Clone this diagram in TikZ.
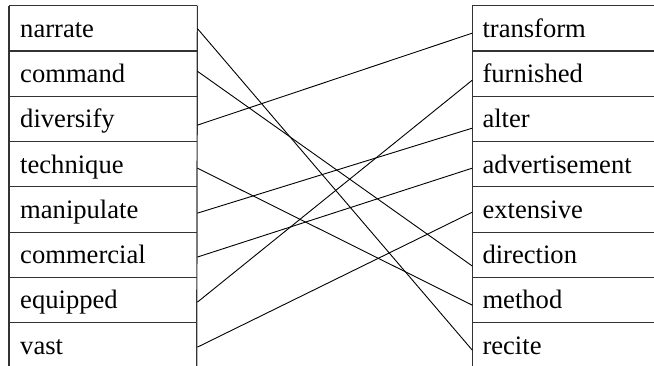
\documentclass[tikz,border=0pt]{standalone}
\usepackage{fontspec}
\setmainfont{Liberation Serif}
\begin{document}
\begin{tikzpicture}[x=1pt,y=-1pt,
  rowL/.style={anchor=north west, inner xsep=11pt, inner ysep=0pt, text width=166pt, align=left,
    text height=31.3pt, text depth=14pt, font=\fontsize{26.6}{30}\selectfont},
  rowR/.style={anchor=north west, inner xsep=10pt, inner ysep=0pt, text width=161.7pt, align=left,
    text height=31.3pt, text depth=14pt, font=\fontsize{26.6}{30}\selectfont},
  frame/.style={draw=black!80, line width=1.2pt},
  link/.style={draw=black, line width=0.9pt}]
\useasboundingbox (0,0) rectangle (654,366);
% left column
\node[rowL] (nar) at (9,5.7) {narrate};
\node[rowL] (com) at (9,51) {command};
\node[rowL] (div) at (9,96.3) {diversify};
\node[rowL] (tec) at (9,141.6) {technique};
\node[rowL] (man) at (9,186.9) {manipulate};
\node[rowL] (cml) at (9,232.2) {commercial};
\node[rowL] (equ) at (9,277.5) {equipped};
\node[rowL] (vas) at (9,322.8) {vast};
% right column
\node[rowR] (tra) at (472.3,5.7) {transform};
\node[rowR] (fur) at (472.3,51) {furnished};
\node[rowR] (alt) at (472.3,96.3) {alter};
\node[rowR] (adv) at (472.3,141.6) {advertisement};
\node[rowR] (ext) at (472.3,186.9) {extensive};
\node[rowR] (dir) at (472.3,232.2) {direction};
\node[rowR] (met) at (472.3,277.5) {method};
\node[rowR] (rec) at (472.3,322.8) {recite};
% frames
\coordinate (lbl) at (9,366);
\coordinate (lbr) at (196.7,366);
\coordinate (rbl) at (472.3,366);
\draw[frame] (nar.north west) -- (lbl);
\draw[frame] (nar.north east) -- (lbr);
\draw[frame] (tra.north west) -- (rbl);
\foreach \n in {nar,com,div,tec,man,cml,equ,vas,tra,fur,alt,adv,ext,dir,met,rec}
  \draw[frame] (\n.north west) -- (\n.north east);
% connectors
\draw[link] (nar.east) -- ([yshift=-4.5pt]rec.west);
\draw[link] ([yshift=2.6pt]com.east) -- ([yshift=-11pt]dir.west);
\draw[link] ([yshift=-6pt]div.east) -- ([yshift=-4.6pt]tra.west);
\draw[link] ([yshift=-3.7pt]tec.east) -- ([yshift=-4.8pt]met.west);
\draw[link] ([yshift=-3.4pt]man.east) -- ([yshift=-9pt]alt.west);
\draw[link] ([yshift=-2pt]cml.east) -- ([yshift=-3.7pt]adv.west);
\draw[link] ([yshift=-1.8pt]equ.east) -- ([yshift=-6.3pt]fur.west);
\draw[link] ([yshift=-1.5pt]vas.east) -- ([yshift=-2.4pt]ext.west);
\end{tikzpicture}
\end{document}
